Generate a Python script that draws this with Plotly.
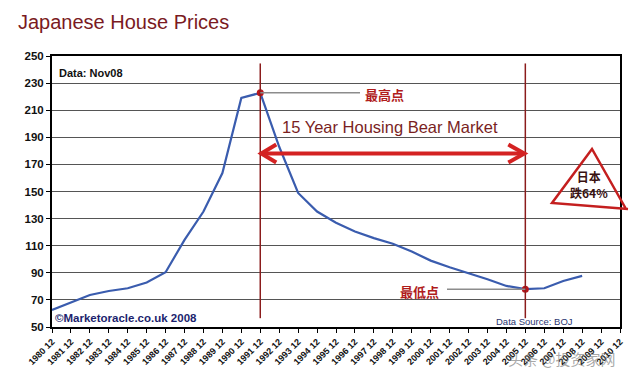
import plotly.graph_objects as go

# ---- data ----
years = list(range(1980, 2009))
prices = [62.6, 68.3, 73.6, 76.6, 78.6, 82.8, 90.4, 114.3, 135.2, 163.6,
          219.1, 222.8, 183.0, 148.9, 135.2, 127.0, 120.5, 115.6, 111.4, 105.7,
          99.0, 94.1, 89.7, 85.2, 80.3, 77.9, 78.6, 84.0, 87.7]
tick_years = list(range(1980, 2011))
tick_labels = [f"{y} 12" for y in tick_years]
y_ticks = list(range(50, 251, 20))

title_text = "Japanese House Prices"
bear_text = "15 Year Housing Bear Market"
high_text = "最高点"
low_text = "最低点"
tri_text = "日本<br>跌64%"

# ---- layout geometry (page pixels; the page body has an 8px margin) ----
OFF = 8
PL, PT, PR, PB = 52, 56, 620, 327          # plot area in page pixels
W, H = 640 - OFF, 382 - OFF
L, T = PL - OFF, PT - OFF
R, B = W - (PR - OFF), H - (PB - OFF)
PW, PH = PR - PL, PB - PT
X0, X1 = 1980, 2010


def px(x):
    return (x - PL) / PW


def py(y):
    return (PB - y) / PH


def xdata(x):
    return X0 + px(x) * (X1 - X0)


i_peak = prices.index(max(prices))
after = prices[i_peak:]
i_low = i_peak + after.index(min(after))
peak_year, peak_val = years[i_peak], prices[i_peak]
low_year, low_val = years[i_low], prices[i_low]

DARKRED = "#8b1c1c"
RED = "#d42222"
BLUE = "#3a5cae"
NAVY = "#1c1f6e"

fig = go.Figure()
fig.add_trace(go.Scatter(x=years, y=prices, mode="lines",
                         line=dict(color=BLUE, width=2.2), hoverinfo="skip",
                         showlegend=False))
fig.add_trace(go.Scatter(x=[peak_year, low_year], y=[peak_val, low_val],
                         mode="markers", marker=dict(color="#b8161c", size=7),
                         showlegend=False, hoverinfo="skip"))

shapes = []
for xv in (peak_year, low_year):
    shapes.append(dict(type="line", xref="x", yref="y", x0=xv, x1=xv,
                       y0=56.5, y1=244.5, line=dict(color=DARKRED, width=1.5),
                       layer="above"))
shapes.append(dict(type="line", xref="x", yref="y", x0=peak_year, x1=xdata(360),
                   y0=peak_val, y1=peak_val, line=dict(color="#8c8c8c", width=1.5)))
shapes.append(dict(type="line", xref="x", yref="y", x0=xdata(447), x1=low_year,
                   y0=low_val, y1=low_val, line=dict(color="#8c8c8c", width=1.5)))
arrow_y = 178
shapes.append(dict(type="line", xref="x", yref="y", x0=peak_year + 0.1, x1=low_year - 0.1,
                   y0=arrow_y, y1=arrow_y, line=dict(color=RED, width=4)))
shapes.append(dict(type="path", xref="x", yref="y", xsizemode="pixel", ysizemode="pixel",
                   xanchor=low_year, yanchor=arrow_y,
                   path="M -17 9 L -1 0 L -17 -9", line=dict(color=RED, width=4)))
shapes.append(dict(type="path", xref="x", yref="y", xsizemode="pixel", ysizemode="pixel",
                   xanchor=peak_year, yanchor=arrow_y,
                   path="M 16 9 L 1 0 L 16 -9", line=dict(color=RED, width=4)))
tri = [(626, 209), (592, 149), (552, 203), (628, 209)]
path = "M " + " L ".join(f"{px(a):.4f} {py(b):.4f}" for a, b in tri)
shapes.append(dict(type="path", xref="paper", yref="paper", path=path,
                   line=dict(color="#c41f1f", width=2.5)))

ann = []
ann.append(dict(text=title_text, x=px(16), y=py(22), xref="paper", yref="paper",
                xanchor="left", yanchor="middle", showarrow=False,
                font=dict(family="Arial", size=20, color="#7a1a22")))
ann.append(dict(text="Data: Nov08", x=px(57), y=py(73), xref="paper", yref="paper",
                xanchor="left", yanchor="middle", showarrow=False,
                font=dict(family="Arial", size=11, color="#111111", weight="bold")))
ann.append(dict(text="©Marketoracle.co.uk 2008", x=px(53), y=py(318), xref="paper", yref="paper",
                xanchor="left", yanchor="middle", showarrow=False,
                font=dict(family="Arial", size=11.5, color=NAVY, weight="bold")))
ann.append(dict(text="Data Source: BOJ", x=px(494), y=py(321), xref="paper", yref="paper",
                xanchor="left", yanchor="middle", showarrow=False,
                font=dict(family="Arial", size=9.5, color="#2a3570")))
ann.append(dict(text=bear_text, x=px(390), y=py(127), xref="paper", yref="paper",
                xanchor="center", yanchor="middle", showarrow=False,
                font=dict(family="Arial", size=16.5, color="#7a1f1f")))
ann.append(dict(text=high_text, x=px(363), y=py(94), xref="paper", yref="paper",
                xanchor="left", yanchor="middle", showarrow=False,
                font=dict(family="Noto Sans CJK SC", size=13, color="#b01c1c", weight="bold")))
ann.append(dict(text=low_text, x=px(398), y=py(291), xref="paper", yref="paper",
                xanchor="left", yanchor="middle", showarrow=False,
                font=dict(family="Noto Sans CJK SC", size=13, color="#b01c1c", weight="bold")))
ann.append(dict(text=tri_text, x=px(589), y=py(184), xref="paper", yref="paper",
                xanchor="center", yanchor="middle", showarrow=False,
                font=dict(family="Noto Sans CJK SC", size=12, color="#3a1212", weight="bold")))
ann.append(dict(text="头条 @投资家网", x=px(562), y=py(358), xref="paper", yref="paper",
                xanchor="center", yanchor="middle", showarrow=False,
                font=dict(family="Noto Sans CJK SC", size=15, color="rgba(110,110,110,0.6)")))

fig.update_layout(
    width=W, height=H,
    margin=dict(l=L, r=R, t=T, b=B, autoexpand=False),
    paper_bgcolor="white", plot_bgcolor="white",
    shapes=shapes, annotations=ann, showlegend=False,
)
fig.update_xaxes(range=[X0, X1], tickmode="array", tickvals=tick_years,
                 ticktext=tick_labels, tickangle=-45, ticks="outside", ticklen=4,
                 tickcolor="black", showgrid=False, showline=True, linecolor="black",
                 linewidth=2, mirror=True, zeroline=False,
                 tickfont=dict(family="Arial", size=9, color="#111111", weight="bold"))
fig.update_yaxes(range=[50, 250], tickmode="array", tickvals=y_ticks,
                 ticks="outside", ticklen=4, tickcolor="black",
                 showgrid=True, gridcolor="#555555", gridwidth=1.3,
                 showline=True, linecolor="black", linewidth=2, mirror=True,
                 zeroline=False,
                 tickfont=dict(family="Arial", size=11.5, color="#111111", weight="bold"))

fig.write_html("out.html")
